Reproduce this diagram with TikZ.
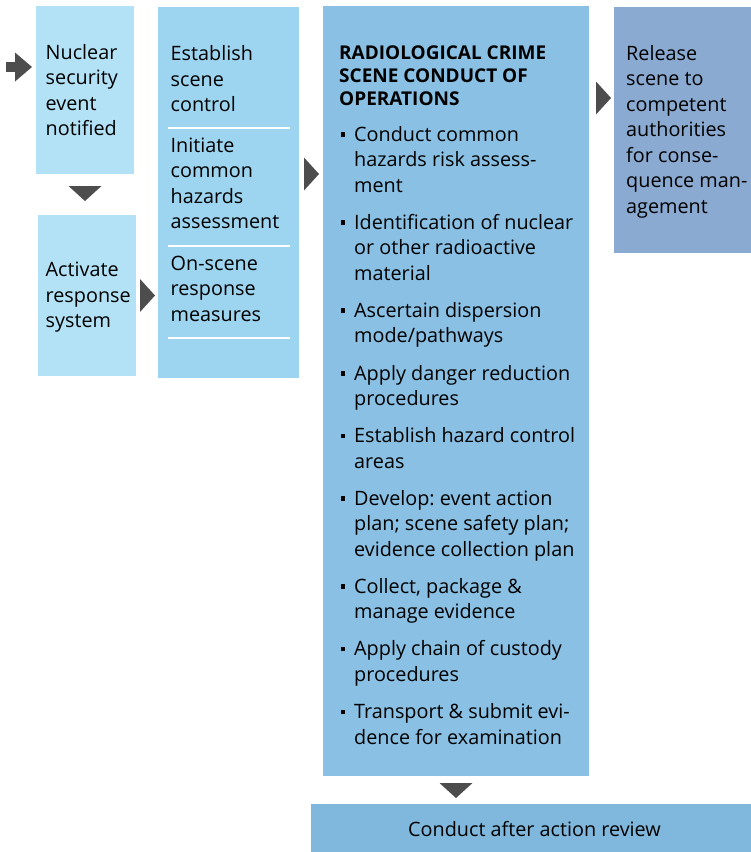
\documentclass[tikz,border=0pt]{standalone}
\usepackage{fontspec}
\setmainfont{Open Sans}
\usetikzlibrary{arrows.meta,positioning}
\frenchspacing

\definecolor{paleblue}{HTML}{B3E2F6}
\definecolor{skyblue}{HTML}{9DD4EF}
\definecolor{midblue}{HTML}{89C0E3}
\definecolor{slateblue}{HTML}{8AAAD2}
\definecolor{reviewblue}{HTML}{80B8DD}
\definecolor{arrowgray}{HTML}{4D4D4D}

\newcommand{\bodyfont}{\fontsize{19.8}{25.5}\selectfont}
\newcommand{\headfont}{\fontsize{19}{23}\selectfont\bfseries}
% strut for the first line, with or without the square bullet
\newcommand{\fl}{\strut}
\newcommand{\sqbullet}{\strut\llap{\rule[4.5pt]{4.5pt}{4.5pt}\hspace{9pt}}}

\tikzset{
  box/.style={anchor=north west, inner sep=0pt, outer sep=0pt},
  txt/.style={inner sep=0pt, align=left, font=\bodyfont, anchor=west, execute at end node=\strut},
  item/.style={txt, anchor=north west},
  entry/.style={draw=arrowgray, line width=10pt, -{Triangle[length=17pt,width=29pt,line width=0pt]}},
  tri/.style={draw=arrowgray, line width=0pt, -{Triangle[length=15pt,width=33pt,line width=0pt]}},
  sepline/.style={white, line width=2.5pt},
}

\begin{document}
\begin{tikzpicture}[x=1pt, y=-1pt]
\useasboundingbox (0,0) rectangle (751,852);

% boxes
\node[box, fill=paleblue, minimum width=98, minimum height=168] (b1) at (36,6) {};
\node[box, fill=paleblue, minimum width=98, minimum height=161] (b2) at (38,215) {};
\node[box, fill=skyblue, minimum width=141, minimum height=371] (b3) at (158,7) {};
\node[box, fill=midblue, minimum width=266, minimum height=770] (b4) at (323,6) {};
\node[box, fill=slateblue, minimum width=137, minimum height=246] (b5) at (614,7) {};
\node[box, fill=reviewblue, minimum width=440, minimum height=48] (b6) at (311,804) {};

% texts
\node[txt] (t1) at (45.5,92.4) {\fl Nuclear\\security\\event\\notified};
\node[txt] (t2) at (45.5,297) {\fl Activate\\response\\system};
\node[txt] (s1) at (170.5,81) {\fl Establish\\scene\\control};
\node[txt] (s2) at (170.5,185.4) {\fl Initiate\\common\\hazards\\assessment};
\node[txt] (s3) at (170.5,290.4) {\fl On-scene\\response\\measures};
\foreach \y in {128,246,338}
  \draw[sepline] (168,\y) -- (290,\y);

\node[txt, font=\headfont] (head) at (339,78) {\fl RADIOLOGICAL CRIME\\SCENE CONDUCT OF\\OPERATIONS};
\node[item] (i1) at (354,123.2) {\sqbullet Conduct common\\hazards risk assess-\\ment};
\node[item, below right=11.2pt and 0pt of i1.south west] (i2) {\sqbullet Identification of nuclear\\or other radioactive\\material};
\node[item, below right=11.2pt and 0pt of i2.south west] (i3) {\sqbullet Ascertain dispersion\\mode/pathways};
\node[item, below right=11.2pt and 0pt of i3.south west] (i4) {\sqbullet Apply danger reduction\\procedures};
\node[item, below right=11.2pt and 0pt of i4.south west] (i5) {\sqbullet Establish hazard control\\areas};
\node[item, below right=11.2pt and 0pt of i5.south west] (i6) {\sqbullet Develop: event action\\plan; scene safety plan;\\evidence collection plan};
\node[item, below right=11.2pt and 0pt of i6.south west] (i7) {\sqbullet Collect, package \&\\manage evidence};
\node[item, below right=11.2pt and 0pt of i7.south west] (i8) {\sqbullet Apply chain of custody\\procedures};
\node[item, below right=11.2pt and 0pt of i8.south west] (i9) {\sqbullet Transport \& submit evi-\\dence for examination};

\node[txt] (t5) at (626,131.5) {\fl Release\\scene to\\competent\\authorities\\for conse-\\quence man-\\agement};
\node[txt, anchor=center] (t6) at (534.5,831) {\fl Conduct after action review};

% arrows
\coordinate (start) at (6,67);
\draw[entry, shorten >=4pt] (start) -- ([yshift=-61pt]b1.north west);
\draw[tri, shorten <=12pt, shorten >=14pt] (b1.south) -- (b1.south |- b2.north);
\draw[tri, shorten <=4pt, shorten >=3pt] (b2.east) -- (b2.east -| b3.west);
\draw[tri, shorten <=5pt, shorten >=4pt] ([yshift=-167pt]b3.north east) -- ([yshift=-168pt]b4.north west);
\draw[tri, shorten <=7pt, shorten >=3pt] ([yshift=-92pt]b4.north east) -- ([yshift=-91pt]b5.north west);
\draw[tri, shorten <=7pt, shorten >=6pt] (b4.south) -- (b4.south |- b6.north);
\end{tikzpicture}
\end{document}
